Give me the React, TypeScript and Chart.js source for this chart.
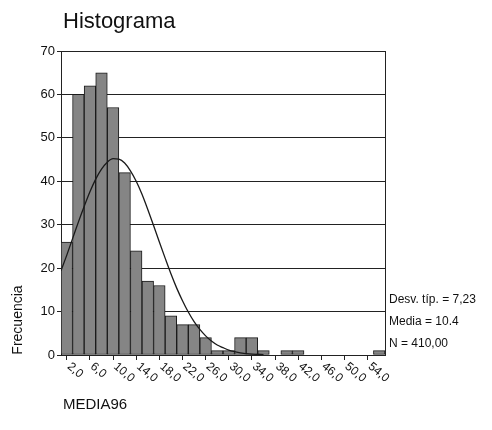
import React, { useEffect, useRef } from 'react';
import { Chart, registerables } from 'chart.js';

Chart.register(...registerables);

// Histogram bins (bin centres, width 2) and frequencies
const binCenters = [2, 4, 6, 8, 10, 12, 14, 16, 18, 20, 22, 24, 26, 28, 30, 32, 34, 36, 38, 40, 42, 44, 46, 48, 50, 52, 54, 56];
const frequencies = [26, 60, 62, 65, 57, 42, 24, 17, 16, 9, 7, 7, 4, 1, 1, 4, 4, 1, 0, 1, 1, 0, 0, 0, 0, 0, 0, 1];

// Normal curve
const curveX = [1, 2, 3, 4, 5, 6, 7, 8, 9, 10, 11, 12, 13, 14, 15, 16, 17, 18, 19, 20, 21, 22, 23, 24, 25, 26, 27, 28, 29, 30, 32, 34, 36];
const curveY = [19.4, 23.0, 26.8, 30.6, 34.2, 37.6, 40.5, 42.8, 44.4, 45.2, 45.1, 44.2, 42.4, 40.0, 37.0, 33.5, 29.8, 26.0, 22.3, 18.7, 15.4, 12.5, 9.9, 7.7, 5.9, 4.4, 3.2, 2.3, 1.7, 1.1, 0.5, 0.2, 0.1];

const xTickValues = [2, 6, 10, 14, 18, 22, 26, 30, 34, 38, 42, 46, 50, 54];
const xTickLabels = ['2,0', '6,0', '10,0', '14,0', '18,0', '22,0', '26,0', '30,0', '34,0', '38,0', '42,0', '46,0', '50,0', '54,0'];

const titleText = 'Histograma';
const yTitle = 'Frecuencia';
const xTitle = 'MEDIA96';
const statsLines = ['Desv. típ. = 7,23', 'Media = 10.4', 'N = 410,00'];

const FONT = '"Liberation Sans", Arial, Helvetica, sans-serif';

export default function App() {
  const canvasRef = useRef<HTMLCanvasElement | null>(null);

  useEffect(() => {
    if (!canvasRef.current) return;

    const textPlugin = {
      id: 'spssText',
      afterDraw(chart: any) {
        const ctx = chart.ctx as CanvasRenderingContext2D;
        const area = chart.chartArea;
        const xs = chart.scales.x;
        ctx.save();
        // right border
        ctx.strokeStyle = '#222';
        ctx.lineWidth = 1;
        ctx.beginPath();
        ctx.moveTo(Math.round(area.right) + 0.5, area.top);
        ctx.lineTo(Math.round(area.right) + 0.5, area.bottom);
        ctx.stroke();

        ctx.fillStyle = '#111';
        // x tick labels, rotated clockwise
        ctx.font = `12px ${FONT}`;
        ctx.textAlign = 'left';
        ctx.textBaseline = 'middle';
        xTickValues.forEach((v, i) => {
          const px = xs.getPixelForValue(v);
          ctx.save();
          ctx.translate(px + 2, area.bottom + 10);
          ctx.rotate((40 * Math.PI) / 180);
          ctx.fillText(xTickLabels[i], 0, 0);
          ctx.restore();
        });

        // title
        ctx.font = `22px ${FONT}`;
        ctx.textBaseline = 'alphabetic';
        ctx.fillText(titleText, 63, 28);

        // x axis title
        ctx.font = `15px ${FONT}`;
        ctx.textBaseline = 'middle';
        ctx.fillText(xTitle, 63, 405);

        // y axis title
        ctx.save();
        ctx.translate(18, 320);
        ctx.rotate(-Math.PI / 2);
        ctx.textAlign = 'center';
        ctx.font = `14px ${FONT}`;
        ctx.fillText(yTitle, 0, 0);
        ctx.restore();

        // stats
        ctx.font = `12px ${FONT}`;
        ctx.textAlign = 'left';
        statsLines.forEach((s, i) => {
          ctx.fillText(s, 389, 300 + i * 22);
        });
        ctx.restore();
      },
    };

    const chart = new Chart(canvasRef.current, {
      type: 'bar',
      data: {
        datasets: [
          {
            type: 'line',
            data: curveX.map((x, i) => ({ x, y: curveY[i] })),
            borderColor: '#1a1a1a',
            borderWidth: 1.3,
            pointRadius: 0,
            fill: false,
            cubicInterpolationMode: 'monotone',
            order: 0,
          } as any,
          {
            type: 'bar',
            data: binCenters.map((x, i) => ({ x, y: frequencies[i] })),
            backgroundColor: '#858585',
            borderColor: '#1a1a1a',
            borderWidth: 1,
            borderSkipped: false,
            barPercentage: 1,
            categoryPercentage: 1,
            order: 1,
          } as any,
        ],
      },
      options: {
        responsive: false,
        animation: false,
        layout: { padding: { top: 51, right: 107, left: 0, bottom: 0 } },
        plugins: { legend: { display: false }, tooltip: { enabled: false }, title: { display: false } },
        scales: {
          x: {
            type: 'linear',
            min: 1,
            max: 57,
            offset: false,
            afterBuildTicks: (scale: any) => {
              scale.ticks = xTickValues.map((v) => ({ value: v }));
            },
            afterFit: (scale: any) => {
              scale.height = 75;
            },
            ticks: { display: false },
            grid: { drawOnChartArea: false, drawTicks: true, tickLength: 5, color: '#222', offset: false },
            border: { display: true, color: '#222' },
          },
          y: {
            min: 0,
            max: 70,
            afterFit: (scale: any) => {
              scale.width = 61;
            },
            ticks: { stepSize: 10, color: '#111', font: { family: FONT, size: 13 }, padding: 2 },
            grid: { color: '#222', tickLength: 4, lineWidth: 1 },
            border: { display: true, color: '#222' },
          },
        },
      } as any,
      plugins: [textPlugin],
    });

    return () => chart.destroy();
  }, []);

  return (
    <div style={{ position: 'absolute', left: 0, top: 0, width: 492, height: 430, background: '#fff' }}>
      <canvas ref={canvasRef} width={492} height={430} />
    </div>
  );
}
